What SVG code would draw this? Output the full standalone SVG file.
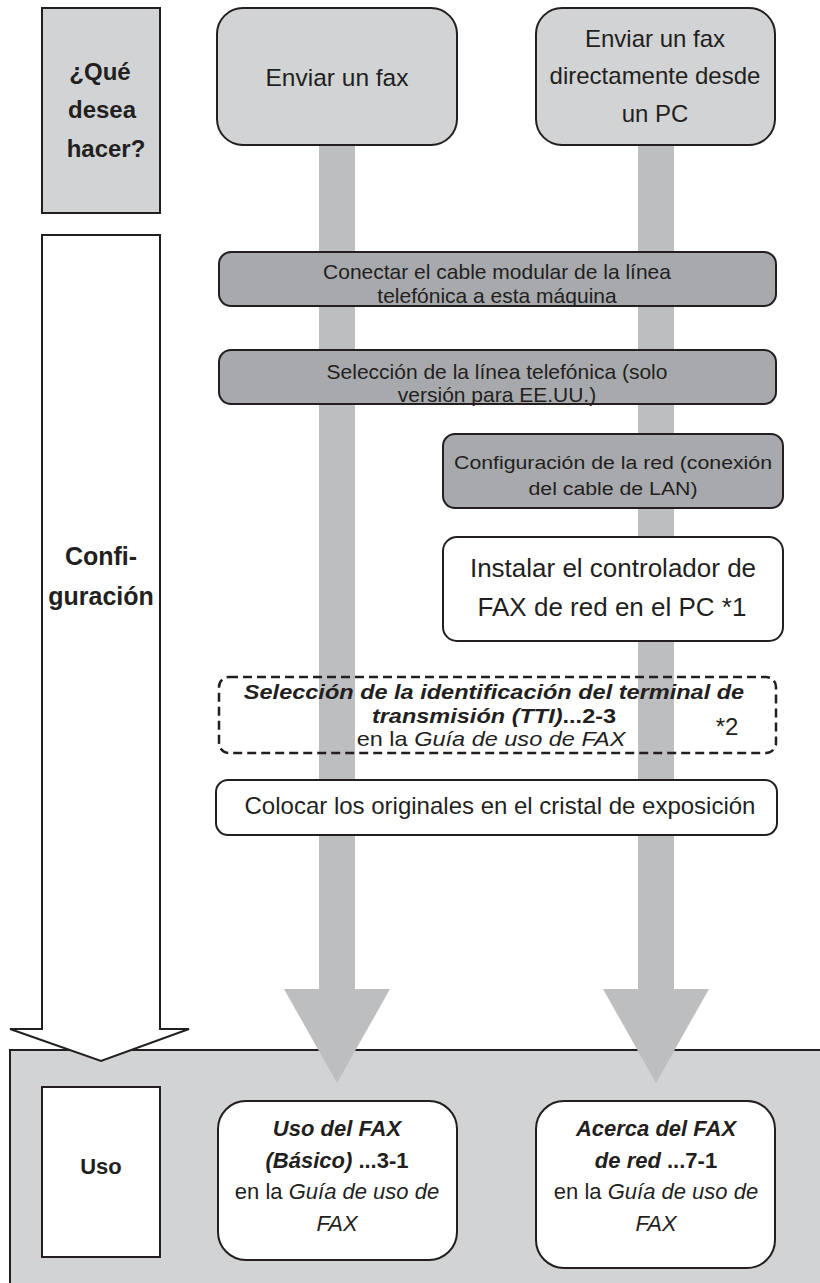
<svg xmlns="http://www.w3.org/2000/svg" width="820" height="1283" viewBox="0 0 820 1283">
<style>
.t{font-family:"Liberation Sans",Arial,sans-serif;fill:#231f20;text-anchor:middle}
.b{font-weight:bold}
.i{font-style:italic}
.n{font-style:normal}
.box{stroke:#231f20;stroke-width:2}
.lt{fill:#d1d3d4}
.dk{fill:#a7a9ac}
.wh{fill:#ffffff}
.bar{fill:#bcbec0}
.dash{fill:none;stroke:#231f20;stroke-width:2.5;stroke-dasharray:9 5}
</style>
<rect width="820" height="1283" fill="#ffffff"/>
<g id="panel-uso">
<rect class="box lt" x="10" y="1050" width="830" height="260"/>
</g>
<g id="connectors">
<rect class="bar" x="319" y="144" width="36" height="847"/>
<rect class="bar" x="638" y="144" width="36" height="847"/>
<polygon class="bar" points="284,989 390,989 337,1083"/>
<polygon class="bar" points="603,989 709,989 656,1083"/>
<path d="M42,235 L160,235 L160,1029 L189,1029 L101,1061 L10,1029 L42,1029 Z" fill="#ffffff" stroke="#231f20" stroke-width="2"/>
</g>
<g id="que-desea">
<rect class="box lt" x="42" y="8" width="118" height="205"/>
<text class="t b" font-size="24"><tspan x="100" y="80">¿Qué</tspan><tspan x="102" y="118">desea</tspan><tspan x="106" y="157">hacer?</tspan></text>
</g>
<g id="enviar-fax">
<rect class="box lt" x="217" y="8" width="240" height="137" rx="26"/>
<text class="t" font-size="24.5" x="337" y="86">Enviar un fax</text>
</g>
<g id="enviar-pc">
<rect class="box lt" x="536" y="8" width="239" height="137" rx="26"/>
<text class="t" font-size="24"><tspan x="655" y="47">Enviar un fax</tspan><tspan x="655" y="84">directamente desde</tspan><tspan x="655" y="122">un PC</tspan></text>
</g>
<g id="configuracion-label">
<text class="t b" font-size="25"><tspan x="101" y="565">Confi-</tspan><tspan x="101" y="605">guración</tspan></text>
</g>
<g id="conectar-cable">
<rect class="box dk" x="219" y="252" width="557" height="54" rx="12"/>
<text class="t" font-size="21"><tspan x="497" y="279">Conectar el cable modular de la línea</tspan><tspan x="497" y="303">telefónica a esta máquina</tspan></text>
</g>
<g id="seleccion-linea">
<rect class="box dk" x="219" y="350" width="557" height="54" rx="12"/>
<text class="t" font-size="21"><tspan x="497" y="379">Selección de la línea telefónica (solo</tspan><tspan x="497" y="402">versión para EE.UU.)</tspan></text>
</g>
<g id="config-red">
<rect class="box dk" x="443" y="434" width="340" height="74" rx="12"/>
<text class="t" font-size="19" transform="translate(613 0) scale(1.12 1)"><tspan x="0" y="469">Configuración de la red (conexión</tspan><tspan x="0" y="495">del cable de LAN)</tspan></text>
</g>
<g id="instalar-controlador">
<rect class="box wh" x="443" y="537" width="340" height="104" rx="14"/>
<text class="t" font-size="26"><tspan x="613" y="577">Instalar el controlador de</tspan><tspan x="612" y="616">FAX de red en el PC *1</tspan></text>
</g>
<g id="seleccion-tti">
<rect class="dash" x="219" y="677" width="557" height="76" rx="10"/>
<text class="t b i" font-size="21" transform="translate(494 0) scale(1.12 1)"><tspan x="0" y="699">Selección de la identificación del terminal de</tspan><tspan x="0" y="723">transmisión (TTI)<tspan class="n">...2-3</tspan></tspan></text>
<text class="t" font-size="21" transform="translate(491 0) scale(1.12 1)" x="0" y="746">en la <tspan class="i">Guía de uso de FAX</tspan></text>
<text class="t" font-size="24" x="727" y="735">*2</text>
</g>
<g id="colocar-originales">
<rect class="box wh" x="216" y="780" width="561" height="55" rx="12"/>
<text class="t" font-size="24" x="500" y="814">Colocar los originales en el cristal de exposición</text>
</g>
<g id="uso-label">
<rect class="box wh" x="42" y="1087" width="118" height="170"/>
<text class="t b" font-size="22" x="101" y="1174">Uso</text>
</g>
<g id="uso-fax-basico">
<rect class="box wh" x="218" y="1101" width="239" height="159" rx="28"/>
<text class="t" font-size="22"><tspan class="b i" x="337" y="1136">Uso del FAX</tspan><tspan x="337" y="1168"><tspan class="b i">(Básico)</tspan><tspan class="b"> ...3-1</tspan></tspan><tspan x="337" y="1199">en la <tspan class="i">Guía de uso de</tspan></tspan><tspan class="i" x="337" y="1231">FAX</tspan></text>
</g>
<g id="acerca-fax-red">
<rect class="box wh" x="536" y="1101" width="239" height="167" rx="28"/>
<text class="t" font-size="22"><tspan class="b i" x="656" y="1136">Acerca del FAX</tspan><tspan x="656" y="1168"><tspan class="b i">de red</tspan><tspan class="b"> ...7-1</tspan></tspan><tspan x="656" y="1199">en la <tspan class="i">Guía de uso de</tspan></tspan><tspan class="i" x="656" y="1231">FAX</tspan></text>
</g>
</svg>
